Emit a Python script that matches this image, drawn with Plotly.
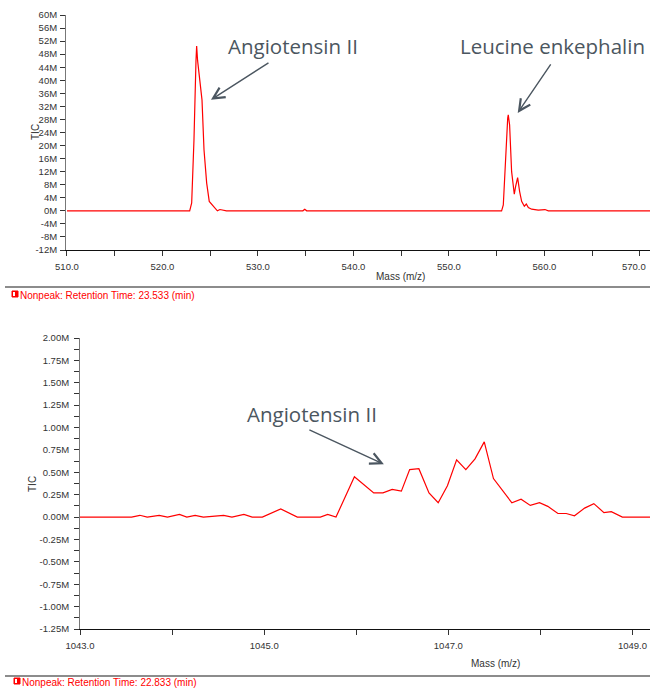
import plotly.graph_objects as go

W, H = 650, 688

# ---- top spectrum (m/z, TIC in millions)
top_mz = [510.0, 522.85, 523.06, 523.30, 523.51, 523.58, 523.68, 523.82, 524.00, 524.14,
          524.35, 524.63, 524.90, 525.15, 525.50, 525.75, 526.02, 526.30, 526.70,
          534.7, 534.9, 535.1, 542.6, 542.8, 543.0,
          555.51, 555.69, 555.93, 556.15, 556.21, 556.35, 556.56, 556.84, 556.98, 557.19,
          557.40, 557.61, 557.89, 558.10, 558.31, 558.66, 559.35, 560.05, 560.40,
          567.2, 567.4, 567.6, 571.05]
top_tic = [0, 0, 2.4, 21.7, 46, 50.5, 46, 42, 39, 34,
           18.7, 8.5, 2.9, 2.0, 0.9, 0, 0.4, 0.2, 0,
           0, 0.5, 0, 0, 0.2, 0,
           0, 1.8, 17, 28.4, 29.4, 26.3, 12, 5.1, 7.5, 10.2,
           5.9, 2.9, 1.4, 2.1, 1.0, 0.5, 0.2, 0.4, 0,
           0, 0.2, 0, 0]

top_yticks = list(range(-12, 61, 4))
top_yticklabels = [f"{v}M" for v in top_yticks]
top_xticks = [510, 520, 530, 540, 550, 560, 570]
top_xticklabels = [f"{v:.1f}" for v in top_xticks]

# ---- bottom spectrum
bot_mz = [1043.00, 1043.56, 1043.65, 1043.73, 1043.86, 1043.95, 1044.08, 1044.16, 1044.25,
          1044.34, 1044.56, 1044.65, 1044.78, 1044.87, 1044.98, 1045.18, 1045.36, 1045.61,
          1045.69, 1045.78, 1045.98, 1046.19, 1046.29, 1046.39, 1046.49, 1046.58, 1046.68,
          1046.79, 1046.89, 1046.99, 1047.09, 1047.19, 1047.29, 1047.39, 1047.49, 1047.59,
          1047.69, 1047.79, 1047.89, 1047.99, 1048.08, 1048.19, 1048.28, 1048.37, 1048.48,
          1048.58, 1048.69, 1048.77, 1048.89, 1049.19]
bot_tic = [0, 0, 0.02, 0, 0.02, 0, 0.03, 0, 0.02,
           0, 0.02, 0, 0.03, 0, 0, 0.09, 0, 0,
           0.03, 0, 0.45, 0.27, 0.27, 0.31, 0.29, 0.53, 0.54,
           0.27, 0.16, 0.35, 0.64, 0.53, 0.65, 0.84, 0.43, 0.29,
           0.16, 0.20, 0.13, 0.16, 0.12, 0.04, 0.04, 0.015, 0.10,
           0.15, 0.05, 0.06, 0, 0]

bot_yticks = [2.0, 1.75, 1.5, 1.25, 1.0, 0.75, 0.5, 0.25, 0.0, -0.25, -0.5, -0.75, -1.0, -1.25]
bot_yticklabels = [f"{v:.2f}M" for v in bot_yticks]
bot_xticks = [1043, 1045, 1047, 1049]
bot_xticklabels = [f"{v:.1f}" for v in bot_xticks]

legend_top = "Nonpeak: Retention Time: 23.533 (min)"
legend_bot = "Nonpeak: Retention Time: 22.833 (min)"


def px(x):
    return x / W


def py(y):
    return 1 - y / H


RED = "#ff0000"
AX = "#333333"
TICKFONT = dict(family="Liberation Sans, Arial", size=9.5, color="#333333")
TITLEFONT = dict(family="Liberation Sans, Arial", size=10, color="#333333")
ANN = "#4b5660"
ANNFONT = dict(family="Open Sans", size=20.5, color=ANN)

fig = go.Figure()
fig.add_trace(go.Scatter(x=top_mz, y=top_tic, mode="lines", line=dict(color=RED, width=1.2),
                         xaxis="x", yaxis="y", showlegend=False, hoverinfo="skip"))
fig.add_trace(go.Scatter(x=bot_mz, y=bot_tic, mode="lines", line=dict(color=RED, width=1.2),
                         xaxis="x2", yaxis="y2", showlegend=False, hoverinfo="skip"))

axis_common = dict(showgrid=False, zeroline=False, showline=True, linewidth=1,
                   ticks="outside", ticklen=5, tickcolor=AX, tickfont=TICKFONT,
                   automargin=False, ticklabeloverflow="allow")

# last top tick label is drawn as an annotation so it stays inside the page
top_xtick_shown = top_xticklabels[:-1] + [""]

fig.update_layout(
    width=W, height=H, margin=dict(l=0, r=0, t=0, b=0, autoexpand=False),
    paper_bgcolor="white", plot_bgcolor="white",
    xaxis=dict(domain=[px(66), 1.0], range=[509.9, 571.05], anchor="y",
               tickvals=top_xticks, ticktext=top_xtick_shown, linecolor="#111111",
               ticklabelstandoff=3,
               minor=dict(dtick=5, tick0=510, ticklen=5, tickcolor=AX, ticks="outside"),
               **axis_common),
    yaxis=dict(domain=[py(250), py(15)], range=[-12, 60], anchor="x",
               tickvals=top_yticks, ticktext=top_yticklabels, linecolor="#777777",
               ticklabelstandoff=1,
               **axis_common),
    xaxis2=dict(domain=[px(80), 1.0], range=[1043.0, 1049.19], anchor="y2",
                tickvals=bot_xticks, ticktext=bot_xticklabels, linecolor="#111111",
                ticklabelstandoff=3,
                minor=dict(dtick=1, tick0=1043, ticklen=5, tickcolor=AX, ticks="outside"),
                **axis_common),
    yaxis2=dict(domain=[py(629), py(338)], range=[-1.25, 2.0], anchor="x2",
                tickvals=bot_yticks, ticktext=bot_yticklabels, linecolor="#777777",
                ticklabelstandoff=3,
                minor=dict(dtick=0.125, tick0=0, ticklen=5, tickcolor=AX, ticks="outside"),
                **axis_common),
)

anns = []
anns.append(dict(text=top_xticklabels[-1], x=px(648), y=py(266), xref="paper", yref="paper",
                 showarrow=False, font=TICKFONT, xanchor="right", yanchor="middle"))
# axis titles
for (x, y) in [(35, 132), (32, 484)]:
    anns.append(dict(text="TIC", x=px(x), y=py(y), xref="paper", yref="paper", textangle=-90,
                     showarrow=False, font=TITLEFONT, xanchor="center", yanchor="middle"))
for (x, y) in [(400, 277), (495, 663)]:
    anns.append(dict(text="Mass (m/z)", x=px(x), y=py(y), xref="paper", yref="paper",
                     showarrow=False, font=TITLEFONT, xanchor="center", yanchor="middle"))
# legend texts
for (x, y, t) in [(18, 295, legend_top), (20, 682, legend_bot)]:
    anns.append(dict(text=t, x=px(x), y=py(y), xref="paper", yref="paper", showarrow=False,
                     font=dict(family="Liberation Sans, Arial", size=10, color=RED),
                     xanchor="left", yanchor="middle"))
# peak labels
anns += [
    dict(text="Angiotensin II", x=533.67, y=50.5, xref="x", yref="y", showarrow=False,
         font=ANNFONT, xanchor="center", yanchor="middle"),
    dict(text="Leucine enkephalin", x=560.8, y=50.5, xref="x", yref="y", showarrow=False,
         font=ANNFONT, xanchor="center", yanchor="middle"),
    dict(text="Angiotensin II", x=1045.52, y=1.156, xref="x2", yref="y2", showarrow=False,
         font=ANNFONT, xanchor="center", yanchor="middle"),
]
# arrows
for (x, y, xr, yr, ax, ay) in [(525.08, 34, "x", "y", 59, -38),
                               (557.2, 30, "x", "y", 34, -50),
                               (1046.30, 0.59, "x2", "y2", -76, -35)]:
    anns.append(dict(text="", x=x, y=y, xref=xr, yref=yr, ax=ax, ay=ay, showarrow=True,
                     arrowhead=5, arrowsize=1.6, arrowwidth=1.4, arrowcolor=ANN, standoff=0))
fig.update_layout(annotations=anns)

shapes = []
for ly in [287, 676]:
    shapes.append(dict(type="line", xref="paper", yref="paper", x0=px(5), x1=1.0,
                       y0=py(ly), y1=py(ly), line=dict(color="#666666", width=1.5)))
for (x0, y0) in [(12, 291), (14, 678)]:
    shapes.append(dict(type="rect", xref="paper", yref="paper", x0=px(x0), x1=px(x0 + 6),
                       y0=py(y0 + 6), y1=py(y0), fillcolor=RED, line=dict(color=RED, width=1)))
    shapes.append(dict(type="rect", xref="paper", yref="paper", x0=px(x0 + 1), x1=px(x0 + 3),
                       y0=py(y0 + 5), y1=py(y0 + 1), fillcolor="white", line=dict(width=0)))
fig.update_layout(shapes=shapes)

fig.write_html("out.html", config={"displayModeBar": False},
               post_script="document.body.style.margin='0';document.body.style.overflow='hidden';"
                           "document.documentElement.style.overflow='hidden';")
